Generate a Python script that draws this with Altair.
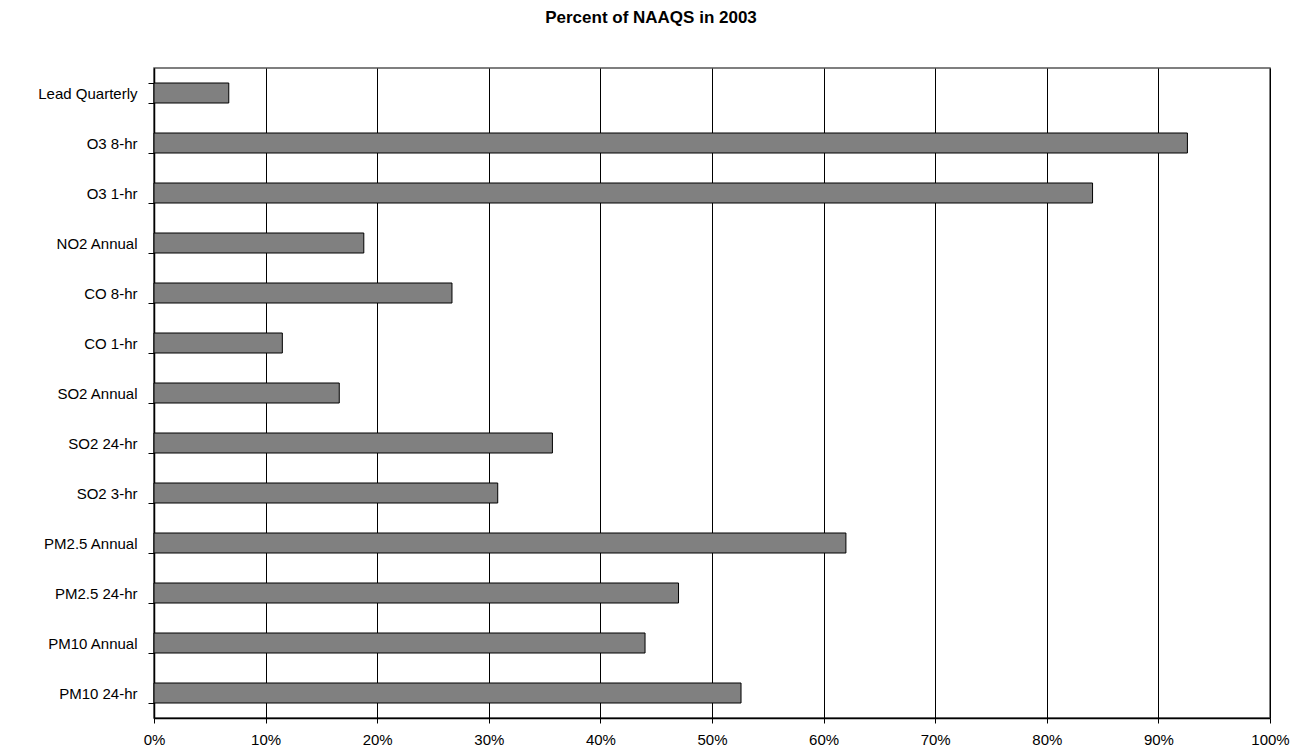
import altair as alt
import pandas as pd

categories = ["Lead Quarterly", "O3  8-hr", "O3  1-hr", "NO2 Annual", "CO  8-hr", "CO  1-hr",
              "SO2  Annual", "SO2  24-hr", "SO2  3-hr", "PM2.5 Annual", "PM2.5 24-hr",
              "PM10 Annual", "PM10 24-hr"]
values = [6.7, 92.6, 84.1, 18.8, 26.7, 11.5, 16.6, 35.7, 30.8, 62.0, 47.0, 44.0, 52.6]
x_ticks = [0, 10, 20, 30, 40, 50, 60, 70, 80, 90, 100]

df = pd.DataFrame({"cat": categories, "val": values})
FONT = "Liberation Sans"

chart = alt.Chart(df).mark_bar(
    color="#808080", stroke="black", strokeWidth=1
).encode(
    x=alt.X("val:Q", scale=alt.Scale(domain=[0, 100], nice=False),
            axis=alt.Axis(values=x_ticks, labelExpr="datum.value + '%'", title=None,
                          grid=True, gridColor="black", gridWidth=1, gridOpacity=1,
                          domainColor="black", domainWidth=1.5, tickColor="black",
                          tickSize=5, labelPadding=9, labelFont=FONT, labelFontSize=15,
                          labelFlush=False, labelColor="black")),
    y=alt.Y("cat:N", sort=categories,
            scale=alt.Scale(paddingInner=0.6, paddingOuter=0.3),
            axis=alt.Axis(title=None, tickBand="extent", tickSize=6, tickColor="black",
                          domainColor="black", domainWidth=1.5, labelPadding=11,
                          labelFont=FONT, labelFontSize=15, labelColor="black", grid=False)),
).properties(
    width=1116, height=650,
    title=alt.TitleParams("Percent of NAAQS in 2003", font=FONT, fontSize=17,
                          fontWeight="bold", color="black", dx=-61, offset=34),
    autosize=alt.AutoSizeParams(type="none"),
    padding={"left": 146, "top": 60, "right": 25, "bottom": 40},
).configure_view(stroke="#555555", strokeWidth=1.5)

chart.save("out.html", embed_options={"renderer": "svg", "actions": False})
